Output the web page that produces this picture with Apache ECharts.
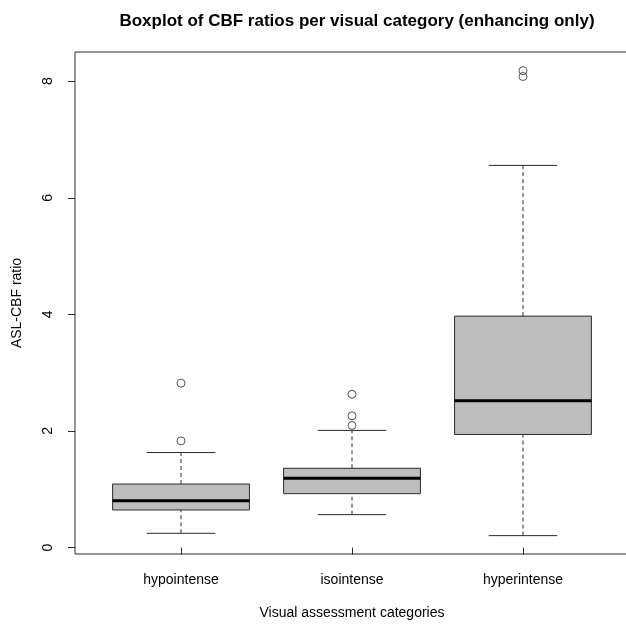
<!DOCTYPE html>
<html>
<head>
<meta charset="utf-8">
<script src="https://cdn.jsdelivr.net/npm/echarts@6/dist/echarts.min.js"></script>
<style>html,body{margin:0;padding:0;background:#fff}#c{width:626px;height:624px}</style>
</head>
<body>
<div id="c"></div>
<script>
var categories = ['hypointense', 'isointense', 'hyperintense'];
var whiskerLow = [0.245, 0.565, 0.205];
var q1 = [0.645, 0.925, 1.94];
var median = [0.805, 1.19, 2.52];
var q3 = [1.09, 1.36, 3.97];
var whiskerHigh = [1.63, 2.01, 6.555];
var outliers = [[1.83, 2.82], [2.095, 2.26, 2.63], [8.08, 8.18]];
var yTicks = [0, 2, 4, 6, 8];
var xTicks = [1, 2, 3];

var boxData = categories.map(function (c, i) {
  return [i + 1, whiskerLow[i], q1[i], median[i], q3[i], whiskerHigh[i]];
});
var outData = [];
outliers.forEach(function (arr, i) {
  arr.forEach(function (v) { outData.push([i + 1, v]); });
});

var FONT = 'Liberation Sans, Arial, Helvetica, sans-serif';
var LINE = '#2a2a2a';

var chart = echarts.init(document.getElementById('c'), null, {renderer: 'canvas'});
chart.setOption({
  animation: false,
  backgroundColor: '#fff',
  title: {
    text: 'Boxplot of CBF ratios per visual category (enhancing only)',
    left: 352, top: 8, textAlign: 'center',
    textStyle: {fontFamily: FONT, fontSize: 17, fontWeight: 'bold', color: '#000'}
  },
  grid: {left: 75, top: 52, width: 554, height: 502, outerBoundsMode: 'none', containLabel: false,
    show: true, borderColor: LINE, borderWidth: 1, backgroundColor: 'transparent'},
  xAxis: {
    type: 'value', min: 0.38, max: 3.62,
    name: 'Visual assessment categories', nameLocation: 'middle', nameGap: 52,
    nameTextStyle: {fontFamily: FONT, fontSize: 14, color: '#000'},
    axisLine: {show: false},
    axisTick: {show: true, length: 7, customValues: xTicks, lineStyle: {color: LINE}},
    axisLabel: {customValues: xTicks, margin: 19, fontFamily: FONT, fontSize: 14, color: '#000',
      formatter: function (v) { return categories[Math.round(v) - 1] || ''; }},
    splitLine: {show: false}
  },
  yAxis: {
    type: 'value', min: -0.11, max: 8.5,
    name: 'ASL-CBF ratio', nameLocation: 'middle', nameGap: 51, nameRotate: 90,
    nameTextStyle: {fontFamily: FONT, fontSize: 14, color: '#000'},
    axisLine: {show: false},
    axisTick: {show: true, length: 7, customValues: yTicks, lineStyle: {color: LINE}},
    axisLabel: {customValues: yTicks, rotate: 90, margin: 20, fontFamily: FONT, fontSize: 14, color: '#000'},
    splitLine: {show: false}
  },
  series: [{
    type: 'custom',
    data: boxData,
    encode: {x: 0, y: [1, 2, 3, 4, 5]},
    renderItem: function (params, api) {
      var x = api.value(0);
      var pLow = api.coord([x, api.value(1)]);
      var pQ1 = api.coord([x, api.value(2)]);
      var pMed = api.coord([x, api.value(3)]);
      var pQ3 = api.coord([x, api.value(4)]);
      var pHigh = api.coord([x, api.value(5)]);
      var hw = api.size([0.4, 0])[0];
      var cw = api.size([0.2, 0])[0];
      var cx = pMed[0];
      return {
        type: 'group',
        children: [
          {type: 'line', shape: {x1: cx, y1: pQ3[1], x2: cx, y2: pHigh[1]}, style: {stroke: LINE, lineWidth: 1, lineDash: [4, 3]}},
          {type: 'line', shape: {x1: cx, y1: pLow[1], x2: cx, y2: pQ1[1]}, style: {stroke: LINE, lineWidth: 1, lineDash: [4, 3]}},
          {type: 'line', shape: {x1: cx - cw, y1: pHigh[1], x2: cx + cw, y2: pHigh[1]}, style: {stroke: LINE, lineWidth: 1}},
          {type: 'line', shape: {x1: cx - cw, y1: pLow[1], x2: cx + cw, y2: pLow[1]}, style: {stroke: LINE, lineWidth: 1}},
          {type: 'rect', shape: {x: cx - hw, y: pQ3[1], width: 2 * hw, height: pQ1[1] - pQ3[1]}, style: {fill: '#bebebe', stroke: LINE, lineWidth: 1}},
          {type: 'line', shape: {x1: cx - hw, y1: pMed[1], x2: cx + hw, y2: pMed[1]}, style: {stroke: '#000', lineWidth: 3}}
        ]
      };
    }
  }, {
    type: 'scatter',
    data: outData,
    symbol: 'circle',
    symbolSize: 8,
    itemStyle: {color: 'transparent', borderColor: LINE, borderWidth: 1}
  }]
});
</script>
</body>
</html>
